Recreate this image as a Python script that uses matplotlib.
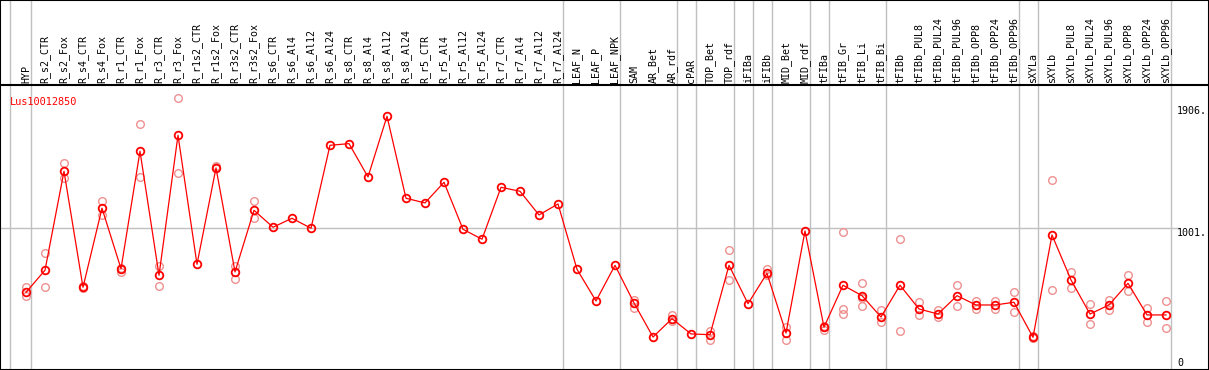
import numpy as np
import matplotlib
matplotlib.use("Agg")
import matplotlib.pyplot as plt

# categories (x axis, read left to right)
samples = ["HYP", "R_s2_CTR", "R_s2_Fox", "R_s4_CTR", "R_s4_Fox", "R_r1_CTR", "R_r1_Fox",
           "R_r3_CTR", "R_r3_Fox", "R_r1s2_CTR", "R_r1s2_Fox", "R_r3s2_CTR", "R_r3s2_Fox",
           "R_s6_CTR", "R_s6_Al4", "R_s6_Al12", "R_s6_Al24", "R_s8_CTR", "R_s8_Al4",
           "R_s8_Al12", "R_s8_Al24", "R_r5_CTR", "R_r5_Al4", "R_r5_Al12", "R_r5_Al24",
           "R_r7_CTR", "R_r7_Al4", "R_r7_Al12", "R_r7_Al24", "LEAF_N", "LEAF_P", "LEAF_NPK",
           "SAM", "AR_Bet", "AR_rdf", "cPAR", "TOP_Bet", "TOP_rdf", "iFIBa", "iFIBb",
           "MID_Bet", "MID_rdf", "tFIBa", "tFIB_Gr", "tFIB_Li", "tFIB_Bi", "tFIBb",
           "tFIBb_PUL8", "tFIBb_PUL24", "tFIBb_PUL96", "tFIBb_OPP8", "tFIBb_OPP24",
           "tFIBb_OPP96", "sXYLa", "sXYLb", "sXYLb_PUL8", "sXYLb_PUL24", "sXYLb_PUL96",
           "sXYLb_OPP8", "sXYLb_OPP24", "sXYLb_OPP96"]

# mean expression
mean = [505, 676, 1442, 544, 1156, 688, 1597, 637, 1721, 722, 1468, 663, 1140,
        1009, 1078, 1001, 1643, 1656, 1398, 1868, 1233, 1197, 1357, 993, 916,
        1318, 1287, 1104, 1189, 683, 438, 714,
        423, 159, 301, 183, 177, 714, 417, 652, 190, 980, 235, 560, 479, 314, 560,
        376, 337, 479, 407, 407, 428, 157, 949, 601, 337, 407, 575, 330, 330]

nan = np.nan
# replicates
rep_a = [549, 807, 1504, 554, 1210, 696, 1806, 711, 2007, nan, 1485, 711, 1210,
         nan, nan, nan, nan, nan, nan, nan, nan, nan, nan, nan, nan,
         nan, nan, nan, nan, nan, nan, nan,
         446, nan, 332, nan, 208, 833, nan, 683, 235, nan, 247, 970, 575, 368, 918,
         428, 368, 560, 440, 438, 505, 167, 1372, 660, 413, 446, 639, 384, 436]
rep_b = [479, 544, 1388, 536, 1104, 665, 1395, 554, 1431, nan, 1478, 606, 1078,
         nan, nan, nan, nan, nan, nan, nan, nan, nan, nan, nan, nan,
         nan, nan, nan, nan, nan, nan, nan,
         382, nan, 286, nan, 134, 601, nan, 637, 136, nan, 216, 374, 464, 278, 206,
         327, 312, 399, 374, 374, 351, 149, 521, 539, 260, 368, 515, 273, 227]
rep_c = [nan] * 43 + [335, 399] + [nan] * 16

# groups end after these samples (grey separators)
group_ends = [0, 28, 31, 34, 35, 37, 38, 39, 41, 42, 45, 52, 53, 60]
ticks = [1906, 1001, 0]
gene = "Lus10012850"

mono = "DejaVu Sans Mono"
fig = plt.figure(figsize=(12.09, 3.70), dpi=100)
ax = fig.add_axes([0, 0, 1, 1])
ax.set_xlim(-26 / 19, (1209 - 26) / 19)
ax.set_ylim(-96.3, 2767.8)
ax.set_xticks([])
ax.set_yticks([])
for s in ax.spines.values():
    s.set_color("black")
    s.set_linewidth(1.5)

grey = "#c0c0c0"
ax.axvline(-0.84, color=grey, lw=1, zorder=1)
for g in group_ends:
    ax.axvline(g + 0.25, color=grey, lw=1, zorder=1)
ax.axhline(1001, xmax=0.975, color=grey, lw=1, zorder=1)

# header
header_y = 2109
ax.axhline(header_y, color="black", lw=1.5, zorder=2)
x = np.arange(len(samples))
for i, name in enumerate(samples):
    ax.text(i, header_y + 15, name, rotation=90, ha="center", va="bottom",
            family=mono, fontsize=7.2)

# replicates then means
for rep in (rep_a, rep_b, rep_c):
    ax.plot(x, rep, ls="none", marker="o", ms=5.5, mfc="none", mec="#ee9090",
            mew=1.0, zorder=3)
ax.plot(x, mean, color="red", lw=0.9, marker="o", ms=5.5, mfc="none", mec="red",
        mew=1.3, zorder=4)

ax.text(-0.84, 1975, gene, color="red", family=mono, fontsize=7.4, ha="left", va="center")

xr = (1177 - 26) / 19
ax.text(xr, ticks[0], f"{ticks[0]}.", family=mono, fontsize=7.2, ha="left", va="center")
ax.text(xr, ticks[1], f"{ticks[1]}.", family=mono, fontsize=7.2, ha="left", va="top")
ax.text(xr, ticks[2], f"{ticks[2]}", family=mono, fontsize=7.2, ha="left", va="top")

fig.savefig("out.png", dpi=100)
